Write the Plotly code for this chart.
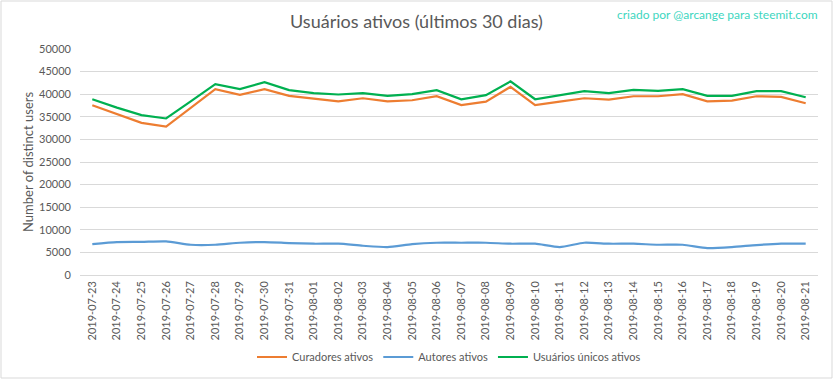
import plotly.graph_objects as go

dates = ["2019-07-23","2019-07-24","2019-07-25","2019-07-26","2019-07-27","2019-07-28","2019-07-29",
         "2019-07-30","2019-07-31","2019-08-01","2019-08-02","2019-08-03","2019-08-04","2019-08-05",
         "2019-08-06","2019-08-07","2019-08-08","2019-08-09","2019-08-10","2019-08-11","2019-08-12",
         "2019-08-13","2019-08-14","2019-08-15","2019-08-16","2019-08-17","2019-08-18","2019-08-19",
         "2019-08-20","2019-08-21"]

curadores = [37540, 35530, 33670, 32840, 37000, 41120, 39850, 41120, 39630, 39040,
             38430, 39100, 38430, 38660, 39550, 37600, 38360, 41630, 37600, 38360,
             39100, 38800, 39550, 39550, 40000, 38430, 38590, 39550, 39400, 37990]

autores = [6840, 7290, 7330, 7440, 6690, 6690, 7140, 7290, 7070, 6920,
           6920, 6470, 6180, 6840, 7140, 7140, 7140, 6920, 6920, 6180,
           7140, 6920, 6920, 6690, 6690, 5960, 6180, 6620, 6920, 6920]

unicos = [38880, 37025, 35370, 34630, 38430, 42240, 41120, 42680, 40900, 40220,
          39930, 40220, 39630, 40000, 40900, 38880, 39780, 42840, 38880, 39780,
          40670, 40220, 40970, 40740, 41120, 39630, 39630, 40670, 40670, 39330]

W, H = 833, 379
L, R, T, B = 80, 15, 49, 104
pw, ph = W - L - R, H - T - B

fig = go.Figure()
fig.add_trace(go.Scatter(x=dates, y=curadores, mode="lines", name="Curadores ativos",
                         line=dict(color="#ED7D31", width=2.2)))
fig.add_trace(go.Scatter(x=dates, y=autores, mode="lines", name="Autores ativos",
                         line=dict(color="#5B9BD5", width=2.2, shape="spline", smoothing=0.6)))
fig.add_trace(go.Scatter(x=dates, y=unicos, mode="lines", name="Usuários únicos ativos",
                         line=dict(color="#00B050", width=2.2)))

font = "Lato, 'Open Sans', sans-serif"
fig.update_layout(
    width=W, height=H,
    margin=dict(l=L, r=R, t=T, b=B, autoexpand=False),
    paper_bgcolor="white", plot_bgcolor="white",
    font=dict(family=font, color="#595959", size=11),
    title=dict(text="Usuários ativos (últimos 30 dias)", x=0.5, xanchor="center",
               y=1 - 22 / H, yanchor="middle", font=dict(size=18, color="#595959", family=font)),
    showlegend=True,
    legend=dict(orientation="h", x=0.5, xanchor="center", y=(275 - 357) / ph, yanchor="middle",
                font=dict(size=11, color="#595959"), itemwidth=30, tracegroupgap=0),
    xaxis=dict(type="category", range=[-0.5, len(dates) - 0.5], tickangle=-90, automargin=False,
               showgrid=False, showline=False, ticks="", ticklabelstandoff=3,
               tickfont=dict(size=11, color="#595959")),
    yaxis=dict(range=[0, 50000], dtick=5000, showgrid=True, gridcolor="#D9D9D9", gridwidth=1,
               zeroline=True, zerolinecolor="#D9D9D9", zerolinewidth=1, ticks="", automargin=False,
               ticklabelstandoff=8, tickformat="d", tickfont=dict(size=11, color="#595959")),
    annotations=[
        dict(text="criado por @arcange para steemit.com", xref="paper", yref="paper",
             x=(820 - L) / pw, y=1 + (T - 14) / ph, xanchor="right", yanchor="middle",
             showarrow=False, font=dict(size=12, color="#3DD6C0", family=font)),
        dict(text="Number of distinct users", xref="paper", yref="paper",
             x=(28 - L) / pw, y=0.5, xanchor="center", yanchor="middle", textangle=-90,
             showarrow=False, font=dict(size=13, color="#595959", family=font)),
    ],
    shapes=[dict(type="rect", xref="paper", yref="paper",
                 x0=(-L + 1) / pw, x1=(W - L - 1) / pw, y0=-(B - 1) / ph, y1=1 + (T - 1) / ph,
                 line=dict(color="#D9D9D9", width=1), fillcolor="rgba(0,0,0,0)", layer="below")],
)

fig.write_html("out.html", config={"displayModeBar": False},
               post_script="document.body.style.margin='0';")
